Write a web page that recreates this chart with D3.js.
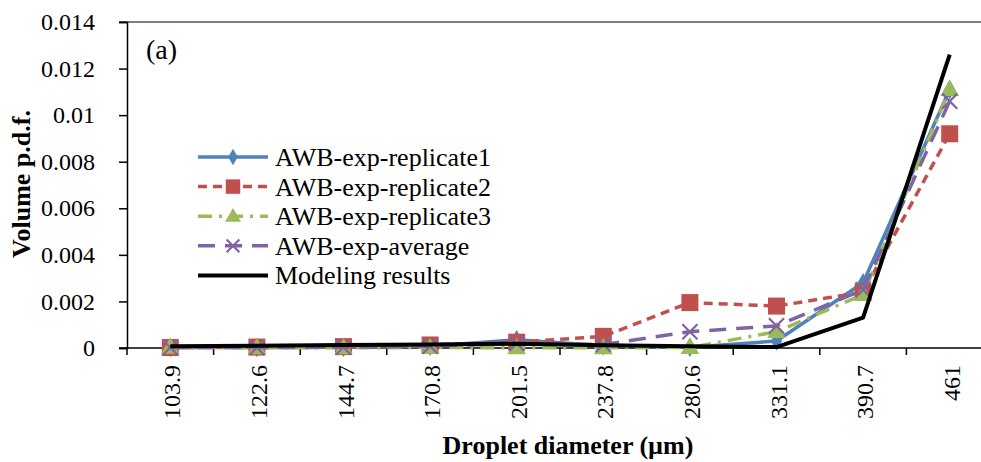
<!DOCTYPE html>
<html>
<head>
<meta charset="utf-8">
<script src="https://cdn.jsdelivr.net/npm/d3@7"></script>
<style>
  body { margin: 0; background: #fff; }
  svg text { font-family: "Liberation Serif", "Times New Roman", serif; fill: #000; }
</style>
</head>
<body>
<svg id="chart" width="981" height="462"></svg>
<script>
// data
var categories = ["103.9", "122.6", "144.7", "170.8", "201.5", "237.8", "280.6", "331.1", "390.7", "461"];
var replicate1 = [0.00002, 0.00002, 0.00003, 0.00008, 0.00035, 0.0001, 0.00003, 0.0003, 0.0028, 0.0111];
var replicate2 = [0.00002, 0.00004, 0.00006, 0.00013, 0.00025, 0.0005, 0.00195, 0.0018, 0.0024, 0.0092];
var replicate3 = [0.00003, 0.00001, 0.00001, 0.00002, 0.00001, 0.00001, 0.00002, 0.0007, 0.0023, 0.0111];
var average = [0.00002, 0.00002, 0.00003, 0.00008, 0.0002, 0.00015, 0.0007, 0.00095, 0.0025, 0.0106];
var modeling = [0.00007, 0.0001, 0.00013, 0.00015, 0.00018, 0.00012, 0.00008, 0.00004, 0.0013, 0.0126];
var yTicks = [0, 0.002, 0.004, 0.006, 0.008, 0.01, 0.012, 0.014];

var series = [
  { name: "AWB-exp-replicate1", values: replicate1, color: "#4F81BD", dash: null, width: 3.5, marker: "diamond" },
  { name: "AWB-exp-replicate2", values: replicate2, color: "#C0504D", dash: "9,6", width: 3.5, marker: "square" },
  { name: "AWB-exp-replicate3", values: replicate3, color: "#9BBB59", dash: "14,7,3,7", width: 3.5, marker: "triangle" },
  { name: "AWB-exp-average", values: average, color: "#8064A2", dash: "17,10", width: 3.5, marker: "x" },
  { name: "Modeling results", values: modeling, color: "#000000", dash: null, width: 4, marker: null }
];

var svg = d3.select("#chart");
// plot area runs a little past the right edge of the picture
var plotLeft = 127, plotRight = 993, plotTop = 22, plotBottom = 348;

//scales
var x = d3.scaleBand().domain(categories).range([plotLeft, plotRight]);
var y = d3.scaleLinear().domain([0, 0.014]).range([plotBottom, plotTop]);

// top border of plot area
svg.append("line")
  .attr("x1", plotLeft - 8).attr("x2", 981)
  .attr("y1", y(0.014)).attr("y2", y(0.014))
  .attr("stroke", "#555").attr("stroke-width", 1.5);

// y axis
var yAxis = svg.append("g")
  .attr("transform", "translate(" + plotLeft + ",0)")
  .call(d3.axisLeft(y).tickValues(yTicks).tickSize(8).tickPadding(24)
    .tickFormat(function (d) { return d === 0 ? "0" : String(+d.toFixed(3)); }));
yAxis.select(".domain").attr("stroke", "#000").attr("stroke-width", 1.5);
yAxis.selectAll(".tick line").attr("stroke", "#000").attr("stroke-width", 1.5);
yAxis.selectAll("text").style("font-size", "24px").attr("fill", "#000")
  .style("font-family", "'Liberation Serif', serif");

// x axis line and ticks at category boundaries
svg.append("line")
  .attr("x1", plotLeft - 8).attr("x2", 981)
  .attr("y1", plotBottom).attr("y2", plotBottom)
  .attr("stroke", "#000").attr("stroke-width", 1.5);
var bounds = categories.map(function (c) { return x(c); });
svg.selectAll(".xtick").data(bounds).enter().append("line")
  .attr("class", "xtick")
  .attr("x1", function (d) { return d; }).attr("x2", function (d) { return d; })
  .attr("y1", plotBottom).attr("y2", plotBottom + 7)
  .attr("stroke", "#000").attr("stroke-width", 1.5);

// x tick labels, rotated
svg.selectAll(".xlab").data(categories).enter().append("text")
  .attr("class", "xlab")
  .attr("transform", function (d) {
    return "translate(" + (x(d) + x.bandwidth() / 2 + 10) + "," + (plotBottom + 17) + ") rotate(-90)";
  })
  .attr("text-anchor", "end")
  .style("font-size", "24px")
  .text(function (d) { return d; });

// axis titles
svg.append("text")
  .attr("x", 568).attr("y", 454)
  .attr("text-anchor", "middle")
  .style("font-size", "26px").style("font-weight", "bold")
  .text("Droplet diameter (\u00b5m)");
svg.append("text")
  .attr("transform", "translate(30,184) rotate(-90)")
  .attr("text-anchor", "middle")
  .style("font-size", "26px").style("font-weight", "bold")
  .text("Volume p.d.f.");

svg.append("text")
  .attr("x", 146).attr("y", 59)
  .style("font-size", "28px")
  .text("(a)");

function cx(i) { return x(categories[i]) + x.bandwidth() / 2; }

function drawMarker(g, type, color, px, py, k) {
  k = k || 1;
  if (type === "diamond") {
    g.append("path").attr("d", d3.symbol(d3.symbolDiamond, 110 * k * k)())
      .attr("transform", "translate(" + px + "," + py + ")").attr("fill", color);
  } else if (type === "square") {
    var h = 8.5 * k;
    g.append("rect").attr("x", px - h).attr("y", py - h).attr("width", 2 * h).attr("height", 2 * h)
      .attr("fill", color);
  } else if (type === "triangle") {
    g.append("path").attr("d", d3.symbol(d3.symbolTriangle, 150 * k * k)())
      .attr("transform", "translate(" + px + "," + (py + 1) + ")").attr("fill", color);
  } else if (type === "x") {
    g.append("path").attr("d", d3.symbol(d3.symbolTimes, 150 * k * k)())
      .attr("transform", "translate(" + px + "," + py + ")")
      .attr("fill", "none").attr("stroke", color).attr("stroke-width", 2.2);
  }
}

var line = d3.line()
  .x(function (d, i) { return cx(i); })
  .y(function (d) { return y(d); });

// draw series
series.forEach(function (s) {
  var g = svg.append("g");
  g.append("path")
    .attr("d", line(s.values))
    .attr("fill", "none")
    .attr("stroke", s.color)
    .attr("stroke-width", s.width)
    .attr("stroke-dasharray", s.dash)
    .attr("stroke-linejoin", "round");
  if (s.marker) {
    s.values.forEach(function (v, i) {
      drawMarker(g, s.marker, s.color, cx(i), y(v));
    });
  }
});

// legend
var legend = svg.append("g");
series.forEach(function (s, i) {
  var ly = 157 + i * 29.6;
  legend.append("line")
    .attr("x1", 198).attr("x2", 268).attr("y1", ly).attr("y2", ly)
    .attr("stroke", s.color).attr("stroke-width", s.width)
    .attr("stroke-dasharray", s.dash);
  if (s.marker) drawMarker(legend, s.marker, s.color, 233, ly, 0.85);
  legend.append("text")
    .attr("x", 275).attr("y", ly + 9)
    .style("font-size", "26px")
    .text(s.name);
});
</script>
</body>
</html>
